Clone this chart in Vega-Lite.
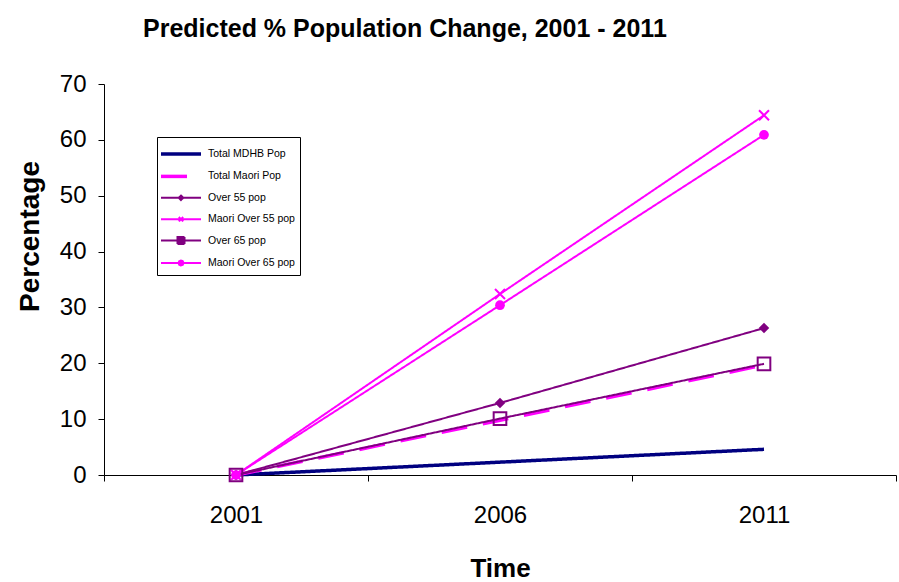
{
  "$schema": "https://vega.github.io/schema/vega-lite/v6.json",
  "autosize": {"type": "none"},
  "padding": {"left": 104, "top": 84, "right": 3, "bottom": 107},
  "width": 792,
  "height": 391,
  "background": "white",
  "config": {
    "view": {"stroke": null},
    "font": "Liberation Sans"
  },
  "title": {
    "text": "Predicted % Population Change, 2001 -  2011",
    "anchor": "start",
    "frame": "group",
    "dx": 39,
    "offset": 30,
    "fontSize": 25,
    "fontWeight": "bold",
    "font": "Liberation Sans",
    "color": "black"
  },
  "data": {
    "values": [
      {"year": "2001", "series": "Total MDHB Pop", "value": 0},
      {"year": "2006", "series": "Total MDHB Pop", "value": 2.3},
      {"year": "2011", "series": "Total MDHB Pop", "value": 4.6},
      {"year": "2001", "series": "Total Maori Pop", "value": 0},
      {"year": "2006", "series": "Total Maori Pop", "value": 9.8},
      {"year": "2011", "series": "Total Maori Pop", "value": 19.7},
      {"year": "2001", "series": "Over 55 pop", "value": 0},
      {"year": "2006", "series": "Over 55 pop", "value": 12.9},
      {"year": "2011", "series": "Over 55 pop", "value": 26.3},
      {"year": "2001", "series": "Maori Over 55 pop", "value": 0},
      {"year": "2006", "series": "Maori Over 55 pop", "value": 32.4},
      {"year": "2011", "series": "Maori Over 55 pop", "value": 64.4},
      {"year": "2001", "series": "Over 65 pop", "value": 0},
      {"year": "2006", "series": "Over 65 pop", "value": 10.1},
      {"year": "2011", "series": "Over 65 pop", "value": 19.9},
      {"year": "2001", "series": "Maori Over 65 pop", "value": 0},
      {"year": "2006", "series": "Maori Over 65 pop", "value": 30.4},
      {"year": "2011", "series": "Maori Over 65 pop", "value": 60.9}
    ]
  },
  "encoding": {
    "x": {
      "field": "year",
      "type": "ordinal",
      "bandPosition": 0.5,
      "scale": {"type": "band", "domain": ["2001", "2006", "2011"], "paddingInner": 0, "paddingOuter": 0},
      "axis": {
        "title": "Time",
        "titleFontSize": 26,
        "titleFontWeight": "bold",
        "titleFont": "Liberation Sans",
        "titleColor": "black",
        "titleY": 93,
        "titleBaseline": "middle",
        "labelAngle": 0,
        "labelFontSize": 24,
        "labelFont": "Liberation Sans",
        "labelColor": "black",
        "labelPadding": 22,
        "tickBand": "extent",
        "tickSize": 6,
        "tickColor": "black",
        "domainColor": "black",
        "grid": false
      }
    },
    "y": {
      "field": "value",
      "type": "quantitative",
      "scale": {"domain": [0, 70], "nice": false},
      "axis": {
        "title": "Percentage",
        "titleFontSize": 28,
        "titleFontWeight": "bold",
        "titleFont": "Liberation Sans",
        "titleColor": "black",
        "titleX": -74,
        "titleY": 152,
        "titleBaseline": "middle",
        "titleAlign": "center",
        "values": [0, 10, 20, 30, 40, 50, 60, 70],
        "labelFontSize": 24,
        "labelFont": "Liberation Sans",
        "labelColor": "black",
        "labelPadding": 12,
        "tickSize": 6,
        "tickColor": "black",
        "domainColor": "black",
        "grid": false
      }
    }
  },
  "layer": [
    {
      "mark": {"type": "line"},
      "encoding": {
        "color": {
          "field": "series", "type": "nominal",
          "scale": {
            "domain": ["Total MDHB Pop", "Total Maori Pop", "Over 55 pop", "Maori Over 55 pop", "Over 65 pop", "Maori Over 65 pop"],
            "range": ["#000080", "#FF00FF", "#800080", "#FF00FF", "#800080", "#FF00FF"]
          },
          "legend": {
            "title": null,
            "orient": "none",
            "legendX": 53,
            "legendY": 53,
            "symbolSize": 400,
            "strokeColor": "black",
            "fillColor": "white",
            "padding": 5,
            "rowPadding": 3.4,
            "labelFontSize": 10.5,
            "labelFont": "Liberation Sans",
            "labelColor": "black",
            "labelOffset": 22,
            "labelLimit": 200,
            "encode": {
              "symbols": {
                "update": {
                  "shape": {"signal": "datum.value == 'Over 55 pop' ? 'M-1.3,0L2.7,0M0.7,-0.22L0.92,0L0.7,0.22L0.48,0Z' : datum.value == 'Maori Over 55 pop' ? 'M-1.3,0L2.7,0M0.48,-0.22L0.92,0.22M0.48,0.22L0.92,-0.22' : datum.value == 'Over 65 pop' ? 'M-1.3,0L0.35,0M1.05,0L2.7,0M0.35,-0.35L1.05,-0.35L1.05,0.35L0.35,0.35Z' : datum.value == 'Maori Over 65 pop' ? 'M-1.3,0L2.7,0M0.95,0L0.88,0.18L0.7,0.25L0.52,0.18L0.45,0L0.52,-0.18L0.7,-0.25L0.88,-0.18Z' : 'M-1.3,0L2.7,0'"},
                  "fill": {"signal": "datum.value == 'Over 55 pop' ? '#800080' : datum.value == 'Maori Over 65 pop' ? '#FF00FF' : datum.value == 'Over 65 pop' ? 'white' : 'transparent'"},
                  "stroke": {"signal": "datum.value == 'Total MDHB Pop' ? '#000080' : datum.value == 'Over 55 pop' || datum.value == 'Over 65 pop' ? '#800080' : '#FF00FF'"},
                  "strokeDash": {"signal": "datum.value == 'Total Maori Pop' ? [13, 7] : [1, 0]"},
                  "strokeWidth": {"signal": "datum.value == 'Total MDHB Pop' || datum.value == 'Total Maori Pop' ? 2.5 : 1"},
                  "opacity": {"value": 1}
                }
              }
            }
          }
        },
        "strokeDash": {
          "field": "series", "type": "nominal", "legend": null,
          "scale": {
            "domain": ["Total MDHB Pop", "Total Maori Pop", "Over 55 pop", "Maori Over 55 pop", "Over 65 pop", "Maori Over 65 pop"],
            "range": [[1, 0], [26, 16], [1, 0], [1, 0], [1, 0], [1, 0]]
          }
        },
        "strokeWidth": {
          "field": "series", "type": "nominal", "legend": null,
          "scale": {
            "type": "ordinal",
            "domain": ["Total MDHB Pop", "Total Maori Pop", "Over 55 pop", "Maori Over 55 pop", "Over 65 pop", "Maori Over 65 pop"],
            "range": [3.5, 3.5, 2, 2, 2, 2]
          }
        },
        "order": {"field": "series", "type": "nominal"}
      }
    },
    {
      "transform": [{"filter": "datum.series == 'Over 55 pop'"}],
      "mark": {"type": "point", "shape": "diamond", "filled": true, "size": 110, "opacity": 1},
      "encoding": {"color": {"field": "series", "type": "nominal", "legend": null}}
    },
    {
      "transform": [{"filter": "datum.series == 'Maori Over 55 pop'"}],
      "mark": {"type": "point", "shape": "M-1,-1L1,1M-1,1L1,-1", "filled": false, "size": 100, "strokeWidth": 2, "opacity": 1},
      "encoding": {"color": {"field": "series", "type": "nominal", "legend": null}}
    },
    {
      "transform": [{"filter": "datum.series == 'Over 65 pop'"}],
      "mark": {"type": "point", "shape": "square", "filled": false, "size": 160, "strokeWidth": 2, "opacity": 1},
      "encoding": {"color": {"field": "series", "type": "nominal", "legend": null}}
    },
    {
      "transform": [{"filter": "datum.series == 'Maori Over 65 pop'"}],
      "mark": {"type": "point", "shape": "circle", "filled": true, "size": 95, "opacity": 1},
      "encoding": {"color": {"field": "series", "type": "nominal", "legend": null}}
    }
  ]
}
